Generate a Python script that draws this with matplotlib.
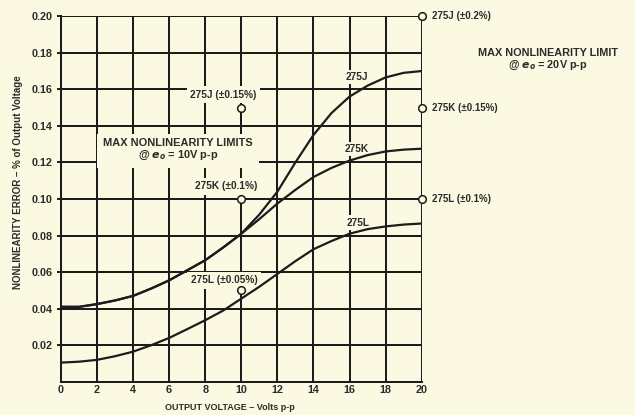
import numpy as np
import matplotlib
matplotlib.use('Agg')
import matplotlib.pyplot as plt

# output voltage (V p-p)
volts = [0, 1, 2, 3, 4, 5, 6, 7, 8, 9, 10, 11, 12, 13, 14, 15, 16, 17, 18, 19, 20]
# nonlinearity error, % of output voltage
err_275J = [0.041, 0.041, 0.0425, 0.0445, 0.047, 0.051, 0.0555, 0.061, 0.0665, 0.0735, 0.081,
            0.0915, 0.104, 0.120, 0.135, 0.147, 0.156, 0.162, 0.1665, 0.169, 0.170]
err_275K = [0.041, 0.041, 0.0425, 0.0445, 0.047, 0.051, 0.0555, 0.061, 0.0665, 0.0735, 0.081,
            0.089, 0.0975, 0.105, 0.112, 0.117, 0.121, 0.124, 0.126, 0.127, 0.1275]
err_275L = [0.0105, 0.011, 0.012, 0.014, 0.0165, 0.020, 0.024, 0.0288, 0.0337, 0.039, 0.0455,
            0.052, 0.059, 0.066, 0.0725, 0.077, 0.081, 0.0835, 0.085, 0.086, 0.0866]

# max nonlinearity limits
lim10_v = 10
lim10_vals = [0.15, 0.10, 0.05]
lim10_labels = ['275J (±0.15%)', '275K (±0.1%)', '275L (±0.05%)']
lim20_v = 20
lim20_vals = [0.20, 0.15, 0.10]
lim20_labels = ['275J (±0.2%)', '275K (±0.15%)', '275L (±0.1%)']

xticks = [0, 2, 4, 6, 8, 10, 12, 14, 16, 18, 20]
yticks = [0.02, 0.04, 0.06, 0.08, 0.10, 0.12, 0.14, 0.16, 0.18, 0.20]

bg = '#fbf9e1'
ink = '#1c1c1c'
txt = '#2b2b2b'
plt.rcParams['font.family'] = ['Liberation Sans', 'DejaVu Sans']
plt.rcParams['font.weight'] = 'bold'
plt.rcParams['mathtext.default'] = 'it'

fig = plt.figure(figsize=(6.35, 4.15), dpi=100, facecolor=bg)
ax = fig.add_axes([0.096, 0.080, 0.568, 0.881], facecolor=bg)

ax.set_xlim(0, 20)
ax.set_ylim(0, 0.20)
ax.set_xticks(xticks)
ax.set_yticks(yticks)
ax.set_xticklabels([str(t) for t in xticks])
ax.set_yticklabels(['%.2f' % t for t in yticks])
ax.tick_params(axis='y', length=3, width=1.4, color=ink, pad=3, labelsize=7.8, labelcolor=txt)
ax.tick_params(axis='x', length=0, pad=2.5, labelsize=7.8, labelcolor=txt)
ax.set_axisbelow(True)
ax.grid(True, color=ink, linewidth=1.45)
for s in ['left', 'bottom']:
    ax.spines[s].set_linewidth(1.45)
    ax.spines[s].set_color(ink)
for s in ['top', 'right']:
    ax.spines[s].set_visible(False)

ax.plot(volts, err_275J, color=ink, lw=1.6, zorder=4)
ax.plot(volts, err_275K, color=ink, lw=1.6, zorder=4)
ax.plot(volts, err_275L, color=ink, lw=1.6, zorder=4)

box = dict(facecolor=bg, edgecolor='none', pad=1.5)
ax.text(16.4, 0.1667, '275J', fontsize=7.3, color=txt, ha='center', va='center', bbox=box, zorder=3)
ax.text(16.4, 0.1275, '275K', fontsize=7.3, color=txt, ha='center', va='center', bbox=box, zorder=3)
ax.text(16.5, 0.0871, '275L', fontsize=7.3, color=txt, ha='center', va='center', bbox=box, zorder=3)

# limits at 10 V p-p
ax.plot([lim10_v] * 3, lim10_vals, 'o', ms=5.5, mfc=bg, mec=ink, mew=1.1, zorder=5)
lab_pos = [(9.0, 0.157), (9.15, 0.107), (9.05, 0.0556)]
for (lx, ly), lab in zip(lab_pos, lim10_labels):
    ax.text(lx, ly, lab, fontsize=7.3, color=txt, ha='center', va='center',
            bbox=dict(facecolor=bg, edgecolor='none', pad=2.5), zorder=3)
ax.text(6.5, 0.1268, 'MAX NONLINEARITY LIMITS\n@ $e_o$ = 10V p-p', fontsize=7.9, color=txt,
        ha='center', va='center', linespacing=1.1,
        bbox=dict(facecolor=bg, edgecolor='none', pad=4.5), zorder=3)

# limits at 20 V p-p
ax.plot([lim20_v] * 3, lim20_vals, 'o', ms=5.5, mfc=bg, mec=ink, mew=1.1, zorder=5, clip_on=False)
for val, lab in zip(lim20_vals, lim20_labels):
    ax.text(20.55, val, lab, fontsize=7, color=txt, ha='left', va='center', clip_on=False)
ax.text(27.0, 0.1760, 'MAX NONLINEARITY LIMIT\n@ $e_o$ = 20V p-p', fontsize=7.8, color=txt,
        ha='center', va='center', linespacing=1.05, clip_on=False)

fig.text(0.362, 0.017, 'OUTPUT VOLTAGE – Volts p-p', fontsize=6.5, color=txt, ha='center', va='center')
fig.text(0.028, 0.56, 'NONLINEARITY ERROR – % of Output Voltage', fontsize=7, color=txt,
         ha='center', va='center', rotation=90)

fig.savefig('out.png', dpi=100, facecolor=bg)
